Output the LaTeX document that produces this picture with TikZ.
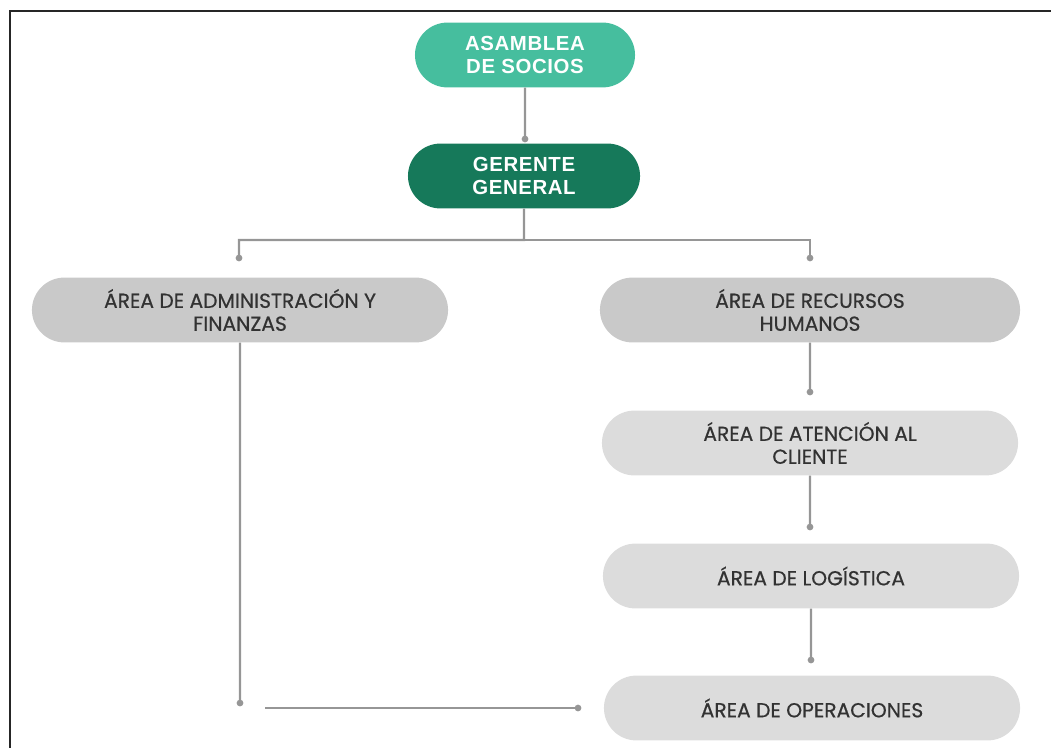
\documentclass[tikz,border=0pt]{standalone}
\usepackage{fontspec}
\setmainfont{Poppins}[FakeBold=0.6]
\newfontfamily\headfont[LetterSpace=3]{Liberation Sans}
\usetikzlibrary{shapes.misc}

\definecolor{asmgreen}{RGB}{70,190,158}
\definecolor{gergreen}{RGB}{22,121,90}
\definecolor{areagray}{RGB}{201,201,201}
\definecolor{subgray}{RGB}{220,220,220}
\definecolor{linkgray}{RGB}{150,150,150}
\definecolor{textgray}{RGB}{50,50,50}

\begin{document}
\begin{tikzpicture}[x=0.025cm, y=-0.025cm,
    box/.style={rounded rectangle, minimum height=1.62cm, align=center, inner sep=0pt},
    head/.style={box, text=white, font=\headfont\bfseries\fontsize{14.5}{16.3}\selectfont},
    area/.style={box, minimum width=10.4cm, text=textgray, font=\fontsize{14.4}{16.3}\selectfont},
    link/.style={draw=linkgray, line width=1.5pt},
    dot/.style={fill=linkgray}]
      \useasboundingbox (0, 0) rectangle (1051, 748);
      \draw[line width=1.6pt, black!85] (10, 748) -- (10, 11) -- (1051, 11);

      % top of the chart
      \node[head, fill=asmgreen, minimum width=5.5cm] (asm) at (525, 55) {ASAMBLEA\\DE SOCIOS};
      \node[head, fill=gergreen, minimum width=5.8cm] (ger) at (524, 176) {GERENTE\\GENERAL};

      % areas
      \node[area, fill=areagray] (adm) at (240, 310) {ÁREA DE ADMINISTRACIÓN Y\\FINANZAS};
      \node[area, fill=areagray, minimum width=10.5cm] (rrhh) at (810, 310) {ÁREA DE RECURSOS\\HUMANOS};
      \node[area, fill=subgray] (aten) at (810, 443) {ÁREA DE ATENCIÓN AL\\CLIENTE};
      \node[area, fill=subgray] (logi) at (811, 576) {ÁREA DE LOGÍSTICA};
      \node[area, fill=subgray] (oper) at (812, 708) {ÁREA DE OPERACIONES};

      \coordinate (d0) at (525, 139);
      \coordinate (br) at (524, 240);
      \coordinate (dadm) at (239, 258);
      \coordinate (drh) at (810, 258);
      \coordinate (d3) at (810, 392);
      \coordinate (d4) at (810, 527);
      \coordinate (d5) at (811, 660);
      \coordinate (d6) at (240, 703);
      \coordinate (h0) at (265, 708);
      \coordinate (d7) at (578, 708);

      \draw[link] (asm) -- (d0);
      \draw[link] (ger) -- (br) -| (dadm);
      \draw[link] (br) -| (drh);
      \draw[link] (rrhh) -- (d3);
      \draw[link] (aten) -- (d4);
      \draw[link] (logi) -- (d5);
      \draw[link] (adm) -- (d6);
      \draw[link] (h0) -- (d7);

      \foreach \d in {d0, dadm, drh, d3, d4, d5, d6, d7}
        \fill[dot] (\d) circle (2.4pt);
    \end{tikzpicture}
\end{document}
